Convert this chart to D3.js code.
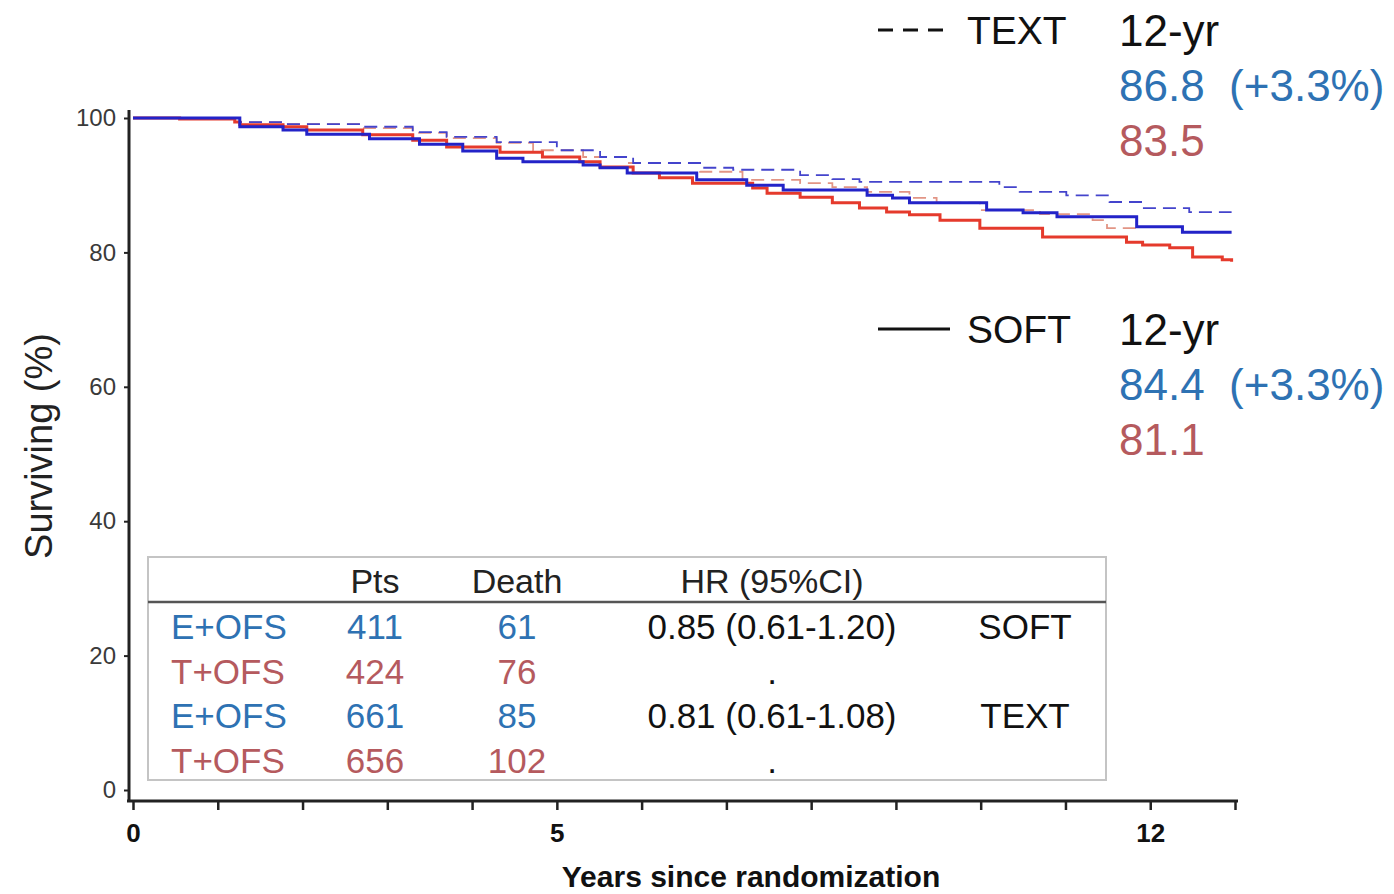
<!DOCTYPE html>
<meta charset="utf-8">
<script src="https://d3js.org/d3.v7.min.js"></script>
<style>
  body { margin: 0; background: #fff; }
  text { font-family: "Liberation Sans", Arial, sans-serif; }
</style>
<div id="chart"></div>
<script>

// Kaplan-Meier step points (years, % surviving)
var softE_t = [0, 1.26, 1.77, 2.05, 2.79, 3.38, 3.89, 4.29, 4.6, 5.31, 5.51, 5.83, 6.65, 7.24, 7.67, 8.66, 8.96, 9.16, 10.07, 10.5, 10.9, 11.84, 12.38, 12.96];
var softE_s = [100, 98.7, 98.2, 97.6, 96.9, 96.1, 95.1, 94.0, 93.5, 93.0, 92.6, 91.8, 90.8, 90.0, 89.3, 88.5, 88.1, 87.4, 86.3, 85.9, 85.3, 83.8, 83.0, 83.0];

var softT_t = [0, 0.55, 1.2, 1.26, 1.77, 2.05, 2.71, 3.3, 3.7, 4.33, 4.83, 5.27, 5.51, 5.9, 6.21, 6.6, 7.31, 7.48, 7.87, 8.25, 8.57, 8.89, 9.16, 9.52, 9.99, 10.73, 11.72, 11.91, 12.23, 12.5, 12.85, 12.96];
var softT_s = [100, 99.85, 99.4, 99.0, 98.7, 98.2, 97.5, 96.7, 95.7, 94.9, 94.2, 93.5, 92.7, 91.8, 91.1, 90.3, 89.6, 88.8, 88.2, 87.4, 86.6, 86.0, 85.6, 84.8, 83.6, 82.3, 81.5, 81.1, 80.7, 79.3, 78.9, 78.6];

var textE_t = [0, 1.26, 1.77, 2.71, 3.3, 3.7, 4.29, 5.0, 5.51, 5.9, 6.69, 7.08, 7.87, 8.25, 8.57, 10.22, 10.46, 11.01, 11.52, 11.91, 12.46, 12.96];
var textE_s = [100, 99.4, 99.1, 98.7, 97.9, 97.2, 96.4, 95.2, 94.2, 93.3, 92.6, 92.3, 91.5, 90.9, 90.5, 89.7, 89.0, 88.5, 87.5, 86.6, 86.0, 86.0];

var textT_t = [0, 1.26, 1.77, 2.71, 3.3, 3.7, 4.29, 4.72, 5.31, 5.83, 6.69, 7.19, 7.87, 8.25, 8.66, 9.16, 9.48, 9.99, 10.7, 11.32, 11.49, 11.84];
var textT_s = [100, 99.4, 99.1, 98.5, 97.8, 97.0, 96.3, 95.2, 94.2, 93.3, 92.0, 90.8, 90.3, 89.7, 89.0, 88.1, 87.4, 86.3, 85.7, 84.8, 83.6, 83.6];

// tick labels
var yTicks = [0, 20, 40, 60, 80, 100];
var xTicks = [0, 1, 2, 3, 4, 5, 6, 7, 8, 9, 10, 11, 12, 13];
var xLabels = [0, 5, 12];

// 12-year legend
var trials = ["TEXT", "SOFT"];
var yr12_E = ["86.8", "84.4"];
var yr12_T = ["83.5", "81.1"];
var yr12_diff = ["(+3.3%)", "(+3.3%)"];

// table
var tabHeader = ["Pts", "Death", "HR (95%CI)"];
var tabArm = ["E+OFS", "T+OFS", "E+OFS", "T+OFS"];
var tabPts = [411, 424, 661, 656];
var tabDeath = [61, 76, 85, 102];
var tabHR = ["0.85 (0.61-1.20)", ".", "0.81 (0.61-1.08)", "."];
var tabTrial = ["SOFT", "", "TEXT", ""];

var blueTxt = "#2e72b3", redTxt = "#b55a5e";

var W = 1394, H = 894;
var svg = d3.select("#chart").append("svg")
    .attr("width", W).attr("height", H);

var x = d3.scaleLinear().domain([0, 13]).range([133, 1235]);
var y = d3.scaleLinear().domain([0, 100]).range([790, 118]);

// Y axis
var yAx = svg.append("g")
    .attr("transform", "translate(129,0)")
    .call(d3.axisLeft(y).tickValues(yTicks).tickSize(5).tickSizeOuter(0).tickPadding(8));
yAx.select(".domain").attr("d", "M0,110V801").attr("stroke", "#222").attr("stroke-width", 3);
yAx.selectAll(".tick line").attr("stroke", "#222").attr("stroke-width", 2);
yAx.selectAll(".tick text").attr("font-size", 24).attr("fill", "#3a3a3a")
    .attr("font-family", "Liberation Sans, Arial, sans-serif");

// X axis
var xAx = svg.append("g")
    .attr("transform", "translate(0,801)")
    .call(d3.axisBottom(x).tickValues(xTicks).tickSize(9).tickSizeOuter(0).tickPadding(14)
      .tickFormat(function(d) { return xLabels.indexOf(d) >= 0 ? d : ""; }));
xAx.select(".domain").attr("d", "M127,0H1238").attr("stroke", "#222").attr("stroke-width", 3);
xAx.selectAll(".tick line").attr("stroke", "#222").attr("stroke-width", 2.5);
xAx.selectAll(".tick text").attr("font-size", 26).attr("font-weight", "bold").attr("fill", "#111")
    .attr("font-family", "Liberation Sans Narrow, Liberation Sans, Arial, sans-serif");

// axis titles
svg.append("text")
    .attr("x", 751).attr("y", 887)
    .attr("text-anchor", "middle")
    .attr("font-size", 30).attr("font-weight", "bold").attr("fill", "#111")
    .text("Years since randomization");

svg.append("text")
    .attr("transform", "translate(52,446) rotate(-90)")
    .attr("text-anchor", "middle")
    .attr("font-size", 38).attr("fill", "#222")
    .text("Surviving (%)");

// curves
var line = d3.line()
    .curve(d3.curveStepAfter)
    .x(function(d) { return x(d[0]); })
    .y(function(d) { return y(d[1]); });

var series = [
  {t: textT_t, s: textT_s, color: "#e29585", width: 1.8, dash: "13,7"},
  {t: textE_t, s: textE_s, color: "#4444cc", width: 1.8, dash: "13,7"},
  {t: softT_t, s: softT_s, color: "#e53a2c", width: 3},
  {t: softE_t, s: softE_s, color: "#2323c8", width: 3}
];

series.forEach(function(sr) {
  var pts = sr.t.map(function(t, i) { return [t, sr.s[i]]; });
  svg.append("path")
    .datum(pts)
    .attr("fill", "none")
    .attr("stroke", sr.color)
    .attr("stroke-width", sr.width)
    .attr("stroke-dasharray", sr.dash || null)
    .attr("d", line);
});

// legend blocks on the right
var legY = [30, 329];
trials.forEach(function(tr, i) {
  var g = svg.append("g").attr("transform", "translate(0," + legY[i] + ")");
  g.append("line")
    .attr("x1", 878).attr("x2", 950).attr("y1", 0).attr("y2", 0)
    .attr("stroke", "#111").attr("stroke-width", 3)
    .attr("stroke-dasharray", tr === "TEXT" ? "15,10" : null);
  g.append("text").attr("x", 967).attr("y", 14)
    .attr("font-size", 39).attr("fill", "#111").text(tr);
  g.append("text").attr("x", 1119).attr("y", 16)
    .attr("font-size", 44).attr("fill", "#111").text("12-yr");
  g.append("text").attr("x", 1119).attr("y", 71)
    .attr("font-size", 44).attr("fill", blueTxt)
    .attr("xml:space", "preserve")
    .text(yr12_E[i] + "  " + yr12_diff[i]);
  g.append("text").attr("x", 1119).attr("y", 126)
    .attr("font-size", 44).attr("fill", redTxt).text(yr12_T[i]);
});

// table box
svg.append("rect")
    .attr("x", 148).attr("y", 557).attr("width", 958).attr("height", 223)
    .attr("fill", "#fff").attr("stroke", "#c4c4c4").attr("stroke-width", 2);
svg.append("line")
    .attr("x1", 148).attr("x2", 1106).attr("y1", 602).attr("y2", 602)
    .attr("stroke", "#555").attr("stroke-width", 2.5);

var colX = [375, 517, 772];
tabHeader.forEach(function(h, i) {
  svg.append("text").attr("x", colX[i]).attr("y", 593)
    .attr("text-anchor", "middle").attr("font-size", 34).attr("fill", "#222").text(h);
});

var rowY = d3.scalePoint().domain(d3.range(tabArm.length)).range([639, 773]);
tabArm.forEach(function(a, i) {
  var c = (i % 2 === 0) ? blueTxt : redTxt;
  var yy = rowY(i);
  svg.append("text").attr("x", 171).attr("y", yy)
    .attr("font-size", 35).attr("fill", c).text(a);
  svg.append("text").attr("x", colX[0]).attr("y", yy).attr("text-anchor", "middle")
    .attr("font-size", 35).attr("fill", c).text(tabPts[i]);
  svg.append("text").attr("x", colX[1]).attr("y", yy).attr("text-anchor", "middle")
    .attr("font-size", 35).attr("fill", c).text(tabDeath[i]);
  svg.append("text").attr("x", colX[2]).attr("y", yy).attr("text-anchor", "middle")
    .attr("font-size", 35).attr("fill", "#111").text(tabHR[i]);
  svg.append("text").attr("x", 1025).attr("y", yy).attr("text-anchor", "middle")
    .attr("font-size", 35).attr("fill", "#111").text(tabTrial[i]);
});

</script>
